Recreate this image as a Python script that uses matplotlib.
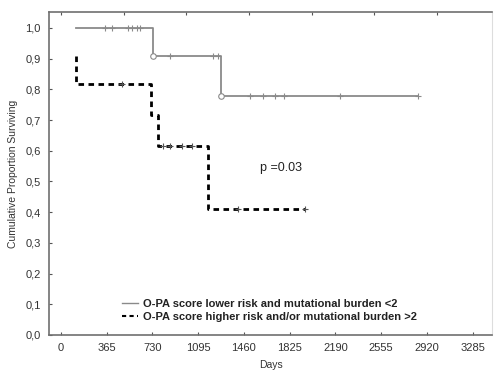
import matplotlib
matplotlib.use('Agg')
import matplotlib.pyplot as plt
from matplotlib.ticker import FuncFormatter

plt.rcParams['font.family'] = ['Liberation Sans', 'DejaVu Sans']

# group 1: O-PA lower risk (solid grey)
t_low = [120, 733, 1275, 2853]
s_low = [1.0, 0.909, 0.779, 0.779]
cens_low_t = [350, 405, 535, 565, 605, 630, 869, 1211, 1251, 1506, 1610, 1705, 1777, 2223, 2853]
cens_low_s = [1.0, 1.0, 1.0, 1.0, 1.0, 1.0, 0.909, 0.909, 0.909,
              0.779, 0.779, 0.779, 0.779, 0.779, 0.779]
event_low_t = [733, 1275]
event_low_s = [0.909, 0.779]

# group 2: O-PA higher risk (dashed black)
t_high = [120, 120, 717, 773, 1171, 1944]
s_high = [0.909, 0.818, 0.716, 0.614, 0.409, 0.409]
cens_high_t = [486, 813, 869, 964, 1044, 1410, 1944]
cens_high_s = [0.818, 0.614, 0.614, 0.614, 0.614, 0.409, 0.409]

x_ticks = [0, 365, 730, 1095, 1460, 1825, 2190, 2555, 2920, 3285]
y_ticks = [0.0, 0.1, 0.2, 0.3, 0.4, 0.5, 0.6, 0.7, 0.8, 0.9, 1.0]
top_ticks = [0, 500, 1000, 1500, 2000, 2500, 3000]

label_low = 'O-PA score lower risk and mutational burden <2'
label_high = 'O-PA score higher risk and/or mutational burden >2'

fig = plt.figure(figsize=(4.98, 3.72), dpi=100)
ax = fig.add_axes([0.0984, 0.0995, 0.8896, 0.8682])

grey = '#8a8a8a'
ax.step(t_low, s_low, where='post', color=grey, lw=1.3, label=label_low)
ax.plot(cens_low_t, cens_low_s, '+', color=grey, ms=5, mew=0.8)
ax.plot(event_low_t, event_low_s, 'o', mfc='white', mec=grey, ms=4, mew=0.8)

ax.step(t_high, s_high, where='post', color='black', lw=2,
        linestyle=(0, (2, 1.6)), label=label_high)
ax.plot(cens_high_t, cens_high_s, '+', color='#555555', ms=5, mew=0.8)

ax.text(1586, 0.545, 'p =0.03', fontsize=9, va='center', ha='left', color='#222222')

ax.set_xlim(-96, 3440)
ax.set_ylim(0, 1.052)
ax.set_xticks(x_ticks)
ax.set_yticks(y_ticks)
ax.yaxis.set_major_formatter(FuncFormatter(lambda v, p: ('%.1f' % v).replace('.', ',')))
ax.tick_params(direction='in', length=2, width=0.8, color='#555555',
               labelsize=8, labelcolor='#333333', pad=6)

sec = ax.secondary_xaxis('top')
sec.set_xticks(top_ticks)
sec.tick_params(direction='in', length=2, width=0.8, color='#555555', labeltop=False)
sec.spines['top'].set_visible(False)

for side in ['left', 'bottom', 'top']:
    ax.spines[side].set_color('#707070')
    ax.spines[side].set_linewidth(1.2)
ax.spines['right'].set_color('#dddddd')
ax.spines['right'].set_linewidth(0.8)

ax.set_xlabel('Days', fontsize=7.5, color='#333333', labelpad=5)
ax.set_ylabel('Cumulative Proportion Surviving', fontsize=7.5, color='#333333', labelpad=5)

leg = ax.legend(loc='lower left', bbox_to_anchor=(0.165, 0.04), frameon=False,
                borderpad=0, borderaxespad=0, handlelength=1.4, handletextpad=0.5,
                labelspacing=0.25, prop={'size': 8, 'weight': 'bold'})
for txt in leg.get_texts():
    txt.set_color('#222222')
leg.get_lines()[0].set_linewidth(1.0)
leg.get_lines()[1].set_linewidth(1.5)

fig.savefig('out.png', dpi=100)
